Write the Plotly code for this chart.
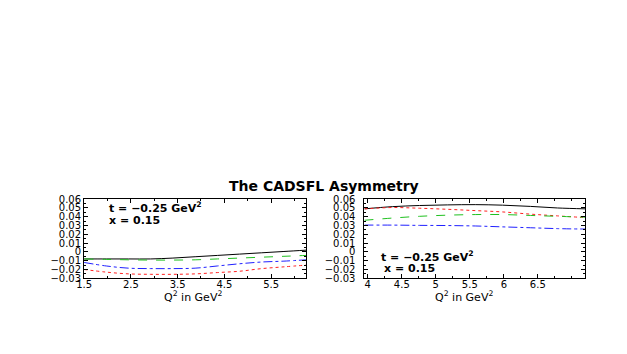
import plotly.graph_objects as go

# ---- data ----
q2_left = [1.5, 1.975, 2.45, 2.925, 3.4, 3.875, 4.35, 4.825, 5.3, 5.775, 6.25]
left_black = [-0.008, -0.008, -0.008, -0.008, -0.007, -0.0055, -0.004, -0.0025, -0.001, 0.0005, 0.002]
left_green = [-0.008, -0.0085, -0.009, -0.0093, -0.0093, -0.009, -0.008, -0.007, -0.006, -0.005, -0.004]
left_blue = [-0.012, -0.016, -0.0185, -0.019, -0.019, -0.0185, -0.016, -0.0135, -0.0115, -0.0105, -0.009]
left_red = [-0.020, -0.023, -0.025, -0.0255, -0.0255, -0.025, -0.0235, -0.022, -0.019, -0.017, -0.015]

q2_right = [3.95, 4.36, 4.76, 5.17, 5.58, 5.98, 6.39, 6.79, 7.2]
right_black = [0.049, 0.0515, 0.0528, 0.0535, 0.0538, 0.0532, 0.0518, 0.050, 0.049]
right_red = [0.049, 0.0505, 0.0497, 0.0485, 0.047, 0.0455, 0.043, 0.041, 0.039]
right_green = [0.036, 0.0385, 0.0405, 0.0418, 0.0425, 0.0425, 0.0415, 0.0405, 0.0395]
right_blue = [0.0305, 0.0305, 0.0302, 0.030, 0.0295, 0.0285, 0.0275, 0.0265, 0.026]

y_ticks = [0.06, 0.05, 0.04, 0.03, 0.02, 0.01, 0, -0.01, -0.02, -0.03]
y_ticktext = ["0.06", "0.05", "0.04", "0.03", "0.02", "0.01", "0", "\u22120.01", "\u22120.02", "\u22120.03"]
x_ticks_left = [1.5, 2.5, 3.5, 4.5, 5.5]
x_ticks_right = [4, 4.5, 5, 5.5, 6, 6.5]

title_text = "<b>The CADSFL Asymmetry</b>"
label_t = "<b>t = \u22120.25 GeV<sup>2</sup></b>"
label_x = "<b>x = 0.15</b>"
xlabel = "Q<sup>2</sup> in GeV<sup>2</sup>"

fig = go.Figure()

styles = [("black", "solid"), ("#ff2020", "dot"), ("#20c020", "dash"), ("#2020ff", "dashdot")]
for ys, (c, d) in zip([left_black, left_red, left_green, left_blue], styles):
    fig.add_trace(go.Scatter(x=q2_left, y=ys, mode="lines", line=dict(color=c, dash=d, width=1, shape="spline"),
                             xaxis="x", yaxis="y", showlegend=False))
for ys, (c, d) in zip([right_black, right_red, right_green, right_blue], styles):
    fig.add_trace(go.Scatter(x=q2_right, y=ys, mode="lines", line=dict(color=c, dash=d, width=1, shape="spline"),
                             xaxis="x2", yaxis="y2", showlegend=False))

# the page body has an 8px margin; size the figure so it fits the window exactly
OX, OY = 8, 8
W, H = 627 - 2 * OX, 354 - 2 * OY


def fx(x):
    return (x - OX) / W


def fy(y):
    return 1 - (y - OY) / H


ydom = [fy(282), fy(200)]
tickfont = dict(family="DejaVu Sans", size=10, color="black")
common = dict(showline=True, linecolor="black", linewidth=1, mirror="ticks", ticks="inside", ticklen=4,
              tickcolor="black", showgrid=False, zeroline=False, tickfont=tickfont)

fig.update_layout(
    width=W, height=H, margin=dict(l=0, r=0, t=0, b=0),
    paper_bgcolor="white", plot_bgcolor="white",
    xaxis=dict(domain=[fx(77), fx(302)], range=[1.5, 6.25], tickvals=x_ticks_left,
               minor=dict(dtick=0.5, tick0=1.5, ticks="inside", ticklen=2, tickcolor="black"),
               anchor="y", ticklabelstandoff=-3, **common),
    yaxis=dict(domain=ydom, range=[-0.03, 0.06], tickvals=y_ticks, ticktext=y_ticktext,
               minor=dict(dtick=0.005, ticks="inside", ticklen=2, tickcolor="black"),
               anchor="x", ticklabelstandoff=0, **common),
    xaxis2=dict(domain=[fx(361), fx(585)], range=[3.95, 7.2], tickvals=x_ticks_right,
                minor=dict(dtick=0.25, tick0=4, ticks="inside", ticklen=2, tickcolor="black"),
                anchor="y2", ticklabelstandoff=-3, **common),
    yaxis2=dict(domain=ydom, range=[-0.03, 0.06], tickvals=y_ticks, ticktext=y_ticktext,
                minor=dict(dtick=0.005, ticks="inside", ticklen=2, tickcolor="black"),
                anchor="x2", ticklabelstandoff=6, **common),
)

ann = [dict(text=title_text, x=fx(320), y=fy(186), xanchor="center", yanchor="middle",
            font=dict(family="DejaVu Sans", size=14, color="black"))]
for (x0, y0, t) in [(100, 209, label_t), (100, 222, label_x), (376, 259, label_t), (379, 272, label_x)]:
    ann.append(dict(text=t, x=fx(x0), y=fy(y0), xanchor="left", yanchor="middle",
                    font=dict(family="DejaVu Sans", size=11, color="black")))
for cx in [187, 462]:
    ann.append(dict(text=xlabel, x=fx(cx), y=fy(301), xanchor="center", yanchor="middle",
                    font=dict(family="DejaVu Sans", size=11, color="black")))
for a in ann:
    a.update(xref="paper", yref="paper", showarrow=False)
fig.update_layout(annotations=ann)

fig.write_html("out.html")
